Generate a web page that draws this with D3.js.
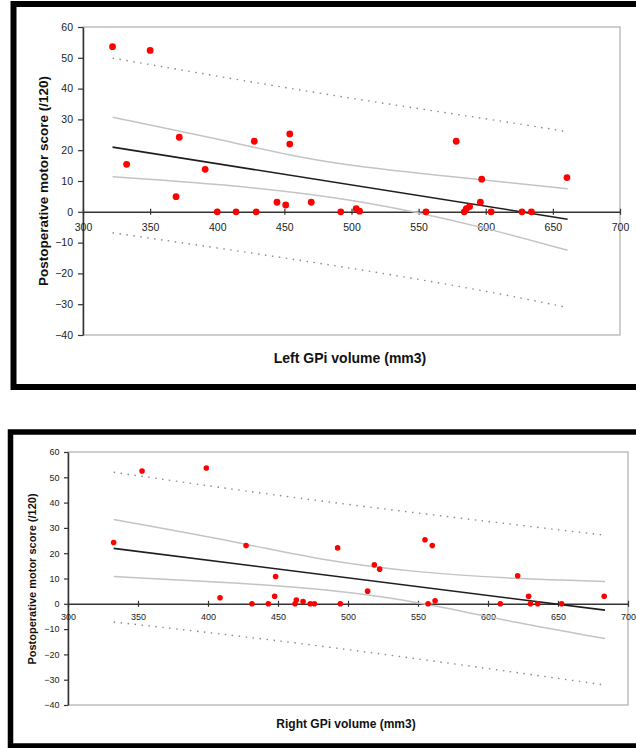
<!DOCTYPE html>
<html>
<head>
<meta charset="utf-8">
<script src="https://cdn.jsdelivr.net/npm/d3@7"></script>
<style>
  body { margin: 0; background: #fff; }
  svg { display: block; font-family: Arial, "Liberation Sans", sans-serif; }
</style>
</head>
<body>
<svg id="chart" width="636" height="748"></svg>
<script>
// tick values shared by both panels
const xTicks = [300, 350, 400, 450, 500, 550, 600, 650, 700];
const yTicks = [-40, -30, -20, -10, 0, 10, 20, 30, 40, 50, 60];

// left GPi panel: volume (mm3) vs postoperative motor score
const leftVolume = [322, 350, 332.5, 371.7, 369.3, 391, 400, 414, 429, 427.6, 444.5, 451, 454, 454, 470,
    492, 503.5, 506, 555.5, 578, 584, 585.5, 588, 596, 597, 604, 627, 634, 660.5];
const leftScore = [53.6, 52.4, 15.4, 24.2, 4.9, 13.8, 0, 0, 0, 22.9, 3.1, 2.2, 25.3, 22, 3.1,
    0, 1, 0.2, 0, 22.9, 0, 1, 1.7, 3.1, 10.6, 0, 0, 0, 11.1];
const leftFit = [[322, 21.0], [661, -2.4]];
const leftCiUpper = [[322, 30.7], [404, 23.3], [454, 18.3], [500, 14.8], [597, 10.4], [661, 7.5]];
const leftCiLower = [[322, 11.4], [404, 9.0], [491, 4.7], [545, 0.2], [598, -5.0], [661, -12.5]];
const leftPiUpper = [[322, 49.9], [476, 38.3], [598, 30.4], [661, 26.0]];
const leftPiLower = [[322, -6.8], [476, -16.5], [598, -25.4], [661, -31.1]];

// right GPi panel
const rightVolume = [332.6, 352.9, 398.8, 408.6, 427.2, 431.4, 443.1, 447.6, 448.3, 462.2, 463.1, 467.9, 473, 476,
    494.5, 492.6, 514, 518.8, 522.6, 555, 557.2, 560.2, 562.2, 608.8, 621.2, 629, 630.3, 635.5, 652.6, 683];
const rightScore = [24.2, 52.5, 53.7, 2.4, 23, 0, 0, 3, 10.8, 0, 1.5, 0.9, 0, 0,
    0, 22.1, 5, 15.4, 13.7, 25.3, 0, 23, 1.2, 0, 11.1, 3, 0, 0, 0, 3];
const rightFit = [[332.6, 21.9], [683.6, -2.5]];
const rightCiUpper = [[332.6, 33.3], [427, 23.8], [477, 17.6], [551, 12.2], [621, 9.9], [683.6, 8.8]];
const rightCiLower = [[332.6, 10.8], [408.6, 8.6], [487, 5.8], [558, 0.1], [620, -7.6], [683.6, -13.7]];
const rightPiUpper = [[332.6, 52.0], [477, 40.5], [683.6, 27.1]];
const rightPiLower = [[332.6, -7.2], [477, -16.0], [683.6, -32.1]];

const svg = d3.select("#chart");

function drawPanel(p) {
    // thick black frame
    svg.append("rect")
        .attr("x", p.frame[0]).attr("y", p.frame[1])
        .attr("width", p.frame[2]).attr("height", p.frame[3])
        .attr("fill", "#fff")
        .attr("stroke", "#000")
        .attr("stroke-width", p.frameWidth);

    const xScale = d3.scaleLinear().domain([300, 700]).range([p.left, p.right]);
    const yScale = d3.scaleLinear().domain([-40, 60]).range([p.bottom, p.top]);

    const g = svg.append("g");

    // plot area outline
    g.append("rect")
        .attr("x", p.left).attr("y", p.top)
        .attr("width", p.right - p.left).attr("height", p.bottom - p.top)
        .attr("fill", "none")
        .attr("stroke", "#b4b4b4")
        .attr("stroke-width", 1.3);

    // y axis
    const yAxis = g.append("g")
        .attr("transform", `translate(${p.left},0)`)
        .call(d3.axisLeft(yScale).tickValues(yTicks).tickSize(p.tickLen).tickSizeOuter(0).tickPadding(p.yPad));
    yAxis.select(".domain").attr("stroke", "#333").attr("stroke-width", 1.5);
    yAxis.selectAll(".tick line").attr("stroke", "#333").attr("stroke-width", 1.2);
    yAxis.selectAll("text").attr("font-size", p.tickFont).attr("fill", "#222");

    // x axis along zero
    const xAxis = g.append("g")
        .attr("transform", `translate(0,${yScale(0)})`)
        .call(d3.axisBottom(xScale).tickValues(xTicks).tickSize(3).tickSizeOuter(0));
    xAxis.select(".domain").attr("stroke", "#333").attr("stroke-width", 1.5);
    xAxis.selectAll(".tick line").attr("y1", -3).attr("stroke", "#333").attr("stroke-width", 1.2);
    xAxis.selectAll("text").attr("y", p.xLabelY).attr("font-size", p.tickFont).attr("fill", "#222");

    const line = d3.line()
        .x(d => xScale(d[0]))
        .y(d => yScale(d[1]))
        .curve(d3.curveBasis);

    [p.piUpper, p.piLower].forEach(d => {
        g.append("path")
            .attr("d", line(d))
            .attr("fill", "none")
            .attr("stroke", "#8c8c8c")
            .attr("stroke-width", 1.4)
            .attr("stroke-dasharray", "1.5,5.5");
    });

    [p.ciUpper, p.ciLower].forEach(d => {
        g.append("path")
            .attr("d", line(d))
            .attr("fill", "none")
            .attr("stroke", "#c4c4c4")
            .attr("stroke-width", 1.5);
    });

    g.append("path")
        .attr("d", line(p.fit))
        .attr("fill", "none")
        .attr("stroke", "#1e1e1e")
        .attr("stroke-width", 1.6);

    g.selectAll(".pt")
        .data(p.xs.map((x, i) => [x, p.ys[i]]))
        .enter()
        .append("circle")
        .attr("class", "pt")
        .attr("cx", d => xScale(d[0]))
        .attr("cy", d => yScale(d[1]))
        .attr("r", p.r)
        .attr("fill", "#f00");

    // titles
    g.append("text")
        .attr("transform", `translate(${p.yTitleX},${p.yTitleY}) rotate(-90)`)
        .attr("text-anchor", "middle")
        .attr("font-weight", "bold")
        .attr("font-size", p.yTitleFont)
        .attr("fill", "#111")
        .text("Postoperative motor score (/120)");

    g.append("text")
        .attr("x", p.xTitleX)
        .attr("y", p.xTitleY)
        .attr("text-anchor", "middle")
        .attr("font-weight", "bold")
        .attr("font-size", p.xTitleFont)
        .attr("fill", "#111")
        .text(p.xTitle);
}

drawPanel({
    frame: [13.5, 4, 640, 383], frameWidth: 6,
    left: 83, right: 620, top: 27, bottom: 335,
    tickLen: 5, yPad: 5, xLabelY: 12, tickFont: 10.5, r: 3.4,
    xs: leftVolume, ys: leftScore, fit: leftFit,
    ciUpper: leftCiUpper, ciLower: leftCiLower, piUpper: leftPiUpper, piLower: leftPiLower,
    yTitleX: 48, yTitleY: 181, yTitleFont: 13.5,
    xTitle: "Left GPi volume (mm3)", xTitleX: 350, xTitleY: 363, xTitleFont: 14
});

drawPanel({
    frame: [10.5, 432, 640, 314], frameWidth: 5.5,
    left: 68, right: 628, top: 452, bottom: 705,
    tickLen: 4, yPad: 4.5, xLabelY: 10, tickFont: 9, r: 2.8,
    xs: rightVolume, ys: rightScore, fit: rightFit,
    ciUpper: rightCiUpper, ciLower: rightCiLower, piUpper: rightPiUpper, piLower: rightPiLower,
    yTitleX: 36, yTitleY: 579, yTitleFont: 11,
    xTitle: "Right GPi volume (mm3)", xTitleX: 346, xTitleY: 728, xTitleFont: 12
});
</script>
</body>
</html>
